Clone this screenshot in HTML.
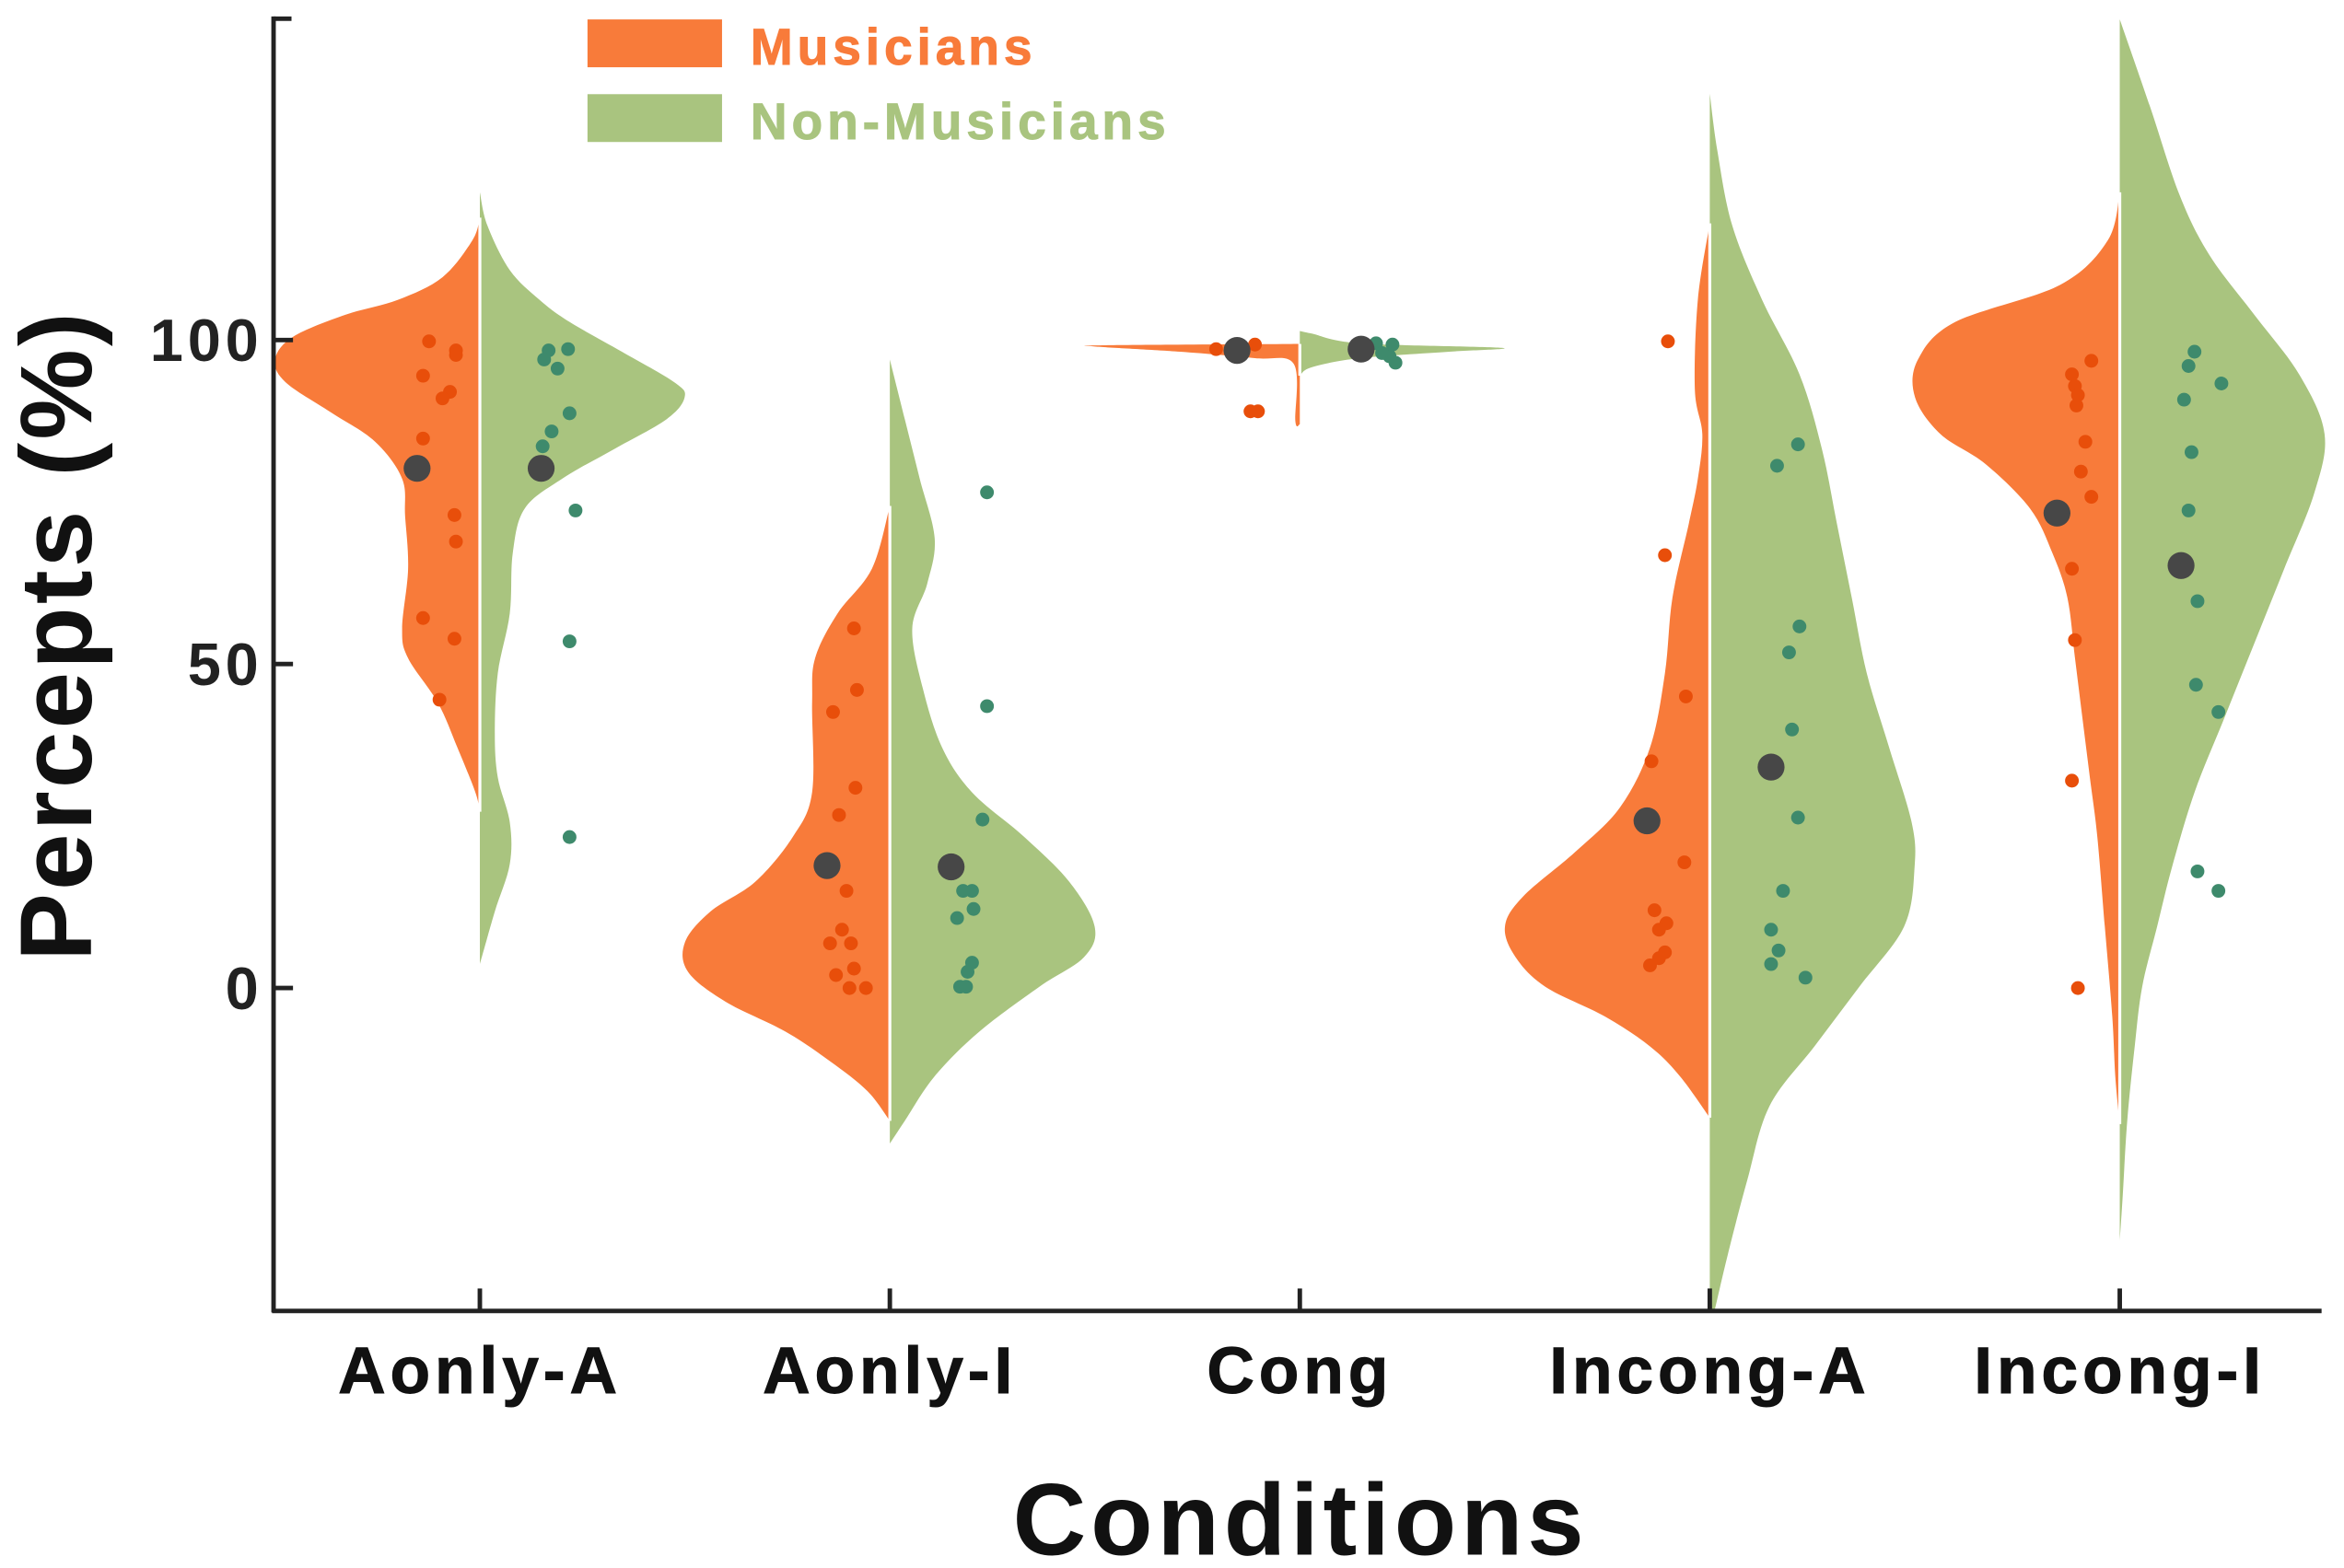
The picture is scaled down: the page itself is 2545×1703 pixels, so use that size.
<!DOCTYPE html>
<html><head><meta charset="utf-8"><style>
html,body{margin:0;padding:0;background:#fff;}
svg{display:block;}
text{font-family:"Liberation Sans",Arial,sans-serif;font-weight:bold;}
</style></head><body>
<svg id="chart" width="2545" height="1703" viewBox="0 0 1568 1049" preserveAspectRatio="none" xmlns="http://www.w3.org/2000/svg">
<g id="violins"></g>
<g id="points"></g>
<g id="axes">
<line x1="183" y1="11" x2="183" y2="878" stroke="#222" stroke-width="3"/>
<line x1="183" y1="12.5" x2="195" y2="12.5" stroke="#222" stroke-width="3"/>
<line x1="182" y1="877" x2="1553" y2="877" stroke="#222" stroke-width="3"/>
</g>
<g id="legend">
<rect x="393" y="13" width="90" height="32" fill="#F87B3A"/>
<text x="502" y="43" font-size="34" fill="#F87B3A" letter-spacing="3" stroke="#F87B3A" stroke-width="0.6">Musicians</text>
<rect x="393" y="63" width="90" height="32" fill="#A9C47F"/>
<text x="502" y="93" font-size="34" fill="#A9C47F" letter-spacing="3" stroke="#A9C47F" stroke-width="0.6">Non-Musicians</text>
</g>
<text x="870" y="1040" font-size="68" text-anchor="middle" fill="#111" letter-spacing="3">Conditions</text>
<text transform="translate(61,425) rotate(-90)" font-size="68" text-anchor="middle" fill="#111" letter-spacing="2">Percepts (%)</text>
</svg>
<script>
const categories = ["Aonly-A","Aonly-I","Cong","Incong-A","Incong-I"];
const yTicks = [0,50,100];
// density profiles: [value, half-width(density px)]
const musDensity = [
 [[118.9,0],[115.4,5],[109.7,25],[106.2,55],[103.9,90],[100.5,125],[97,137],[93.5,130],[88.9,100],[84.3,70],[78.6,52],[72.8,50],[64.7,48],[55.5,52],[50.9,48],[44,28],[37.1,15],[30.2,3],[27.2,0]],
 [[74.4,0],[64.7,12],[57.8,35],[50.9,50],[44,52],[30.2,52],[23.3,65],[16.4,90],[11.8,120],[7.1,137],[2.5,135],[-2.1,110],[-6.7,70],[-11.3,40],[-15.9,15],[-20.5,0]],
 [[99.4,0],[99.2,130],[99,137],[98.2,80],[97.2,30],[96.3,4],[87.5,3],[87,0]],
 [[118,0],[106.2,8],[92.4,10],[85.5,5],[78.6,8],[71.7,14],[60.2,25],[48.6,30],[37.1,40],[27.9,60],[21,90],[14.1,125],[9.5,137],[4.8,130],[0.2,110],[-4.4,70],[-9,40],[-13.6,20],[-20,0]],
 [[122.8,0],[115.4,8],[108.5,40],[102.8,110],[97,135],[91.2,137],[85.5,120],[80.9,90],[74,60],[67.1,45],[60.2,35],[51,30],[41.7,25],[32.5,20],[23.3,15],[9.5,10],[-4.4,5],[-13.6,3],[-21,0]]
];
const nonDensity = [
 [[122.8,0],[117.7,5],[110.8,20],[106.2,40],[102.8,60],[98.2,95],[93.5,130],[91.2,137],[87.8,125],[83.2,90],[78.6,55],[74,30],[67.1,22],[57.8,20],[48.6,12],[39.4,10],[32.5,12],[25.6,20],[19.1,20],[11.8,10],[3.7,0]],
 [[97,0],[87.8,10],[78.6,20],[69.4,30],[62.4,25],[55.5,15],[46.3,22],[37.1,35],[30.2,55],[23.3,90],[16.4,120],[9.5,137],[4.8,130],[0.2,100],[-6.7,60],[-13.6,30],[-20.5,10],[-24,0]],
 [[101.4,0],[101,8],[99.5,40],[98.8,135],[98.2,100],[97.2,40],[95.8,8],[94.5,0]],
 [[138,0],[129.3,5],[117.7,15],[106.2,35],[94.7,60],[83.2,75],[71.7,85],[60.2,95],[48.6,105],[37.1,120],[25.6,135],[18.7,137],[9.5,130],[0.2,100],[-9,70],[-18.2,40],[-29.7,25],[-41.2,12],[-50,3]],
 [[149.5,0],[136.2,20],[122.4,40],[113.1,60],[103.9,90],[94.7,120],[85.5,137],[76.3,130],[64.7,110],[53.2,90],[41.7,70],[30.2,50],[18.7,35],[9.5,25],[0.2,15],[-9,10],[-20.5,5],[-32,2],[-39,0]]
];
// individual points: [value, jitter offset from center]
const musPoints = [
 [[99.8,-34],[98.4,-16],[97.7,-16],[94.5,-38],[92,-20],[91,-25],[84.8,-38],[73,-17],[68.9,-16],[57.1,-38],[53.9,-17],[44.5,-27]],
 [[55.5,-24],[46,-22],[42.6,-38],[30.9,-23],[26.7,-34],[15,-29],[9,-32],[6.9,-40],[6.9,-26],[3,-24],[2,-36],[0,-27],[0,-16]],
 [[98.6,-56],[99.3,-30],[89,-33],[89,-28]],
 [[99.8,-28],[66.8,-30],[45,-16],[35,-39],[19.4,-17],[12,-37],[10,-29],[9,-34],[5.5,-30],[3.5,-40],[4.6,-34]],
 [[96.8,-19],[94.7,-32],[92.9,-30],[91.5,-28],[89.9,-29],[84.3,-23],[79.7,-26],[75.8,-19],[64.7,-32],[53.7,-30],[32,-32],[0,-28]]
];
const nonPoints = [
 [[98.4,46],[98.6,59],[97,43],[95.6,52],[88.7,60],[85.9,48],[83.6,42],[73.7,64],[53.5,60],[23.3,60]],
 [[76.5,65],[43.5,65],[26,62],[15,55],[15,49],[12.2,56],[10.8,45],[3.9,55],[2.5,52],[0.2,47],[0.2,51]],
 [[99.5,51],[99.3,62],[97.5,60],[96.5,64],[98,55]],
 [[83.9,59],[80.6,45],[55.8,60],[51.8,53],[39.9,55],[26.3,59],[15,49],[9,41],[5.8,46],[3.7,41],[1.6,64]],
 [[98.2,50],[96,46],[90.8,43],[93.3,68],[82.7,48],[73.7,46],[59.7,52],[46.8,51],[42.6,66],[18,52],[15,66]]
];
const musMeans = [80.2,18.9,98.4,25.8,73.3];
const nonMeans = [80.2,18.7,98.6,34.1,65.2];

const NS="http://www.w3.org/2000/svg";
function xScale(i){return 321+i*274.25;}
function yScale(v){return 661-4.335*v;}
const gV=document.getElementById('violins'), gP=document.getElementById('points'), gA=document.getElementById('axes');
function mk(tag,attrs,parent){const e=document.createElementNS(NS,tag);for(const k in attrs)e.setAttribute(k,attrs[k]);parent.appendChild(e);return e;}
function halfPath(cx,prof,dir){
  const pts=prof.map(p=>[cx+dir*p[1],yScale(p[0])]);
  let d=`M${cx},${pts[0][1]} L${pts[0][0]},${pts[0][1]}`;
  for(let k=0;k<pts.length-1;k++){
    const p0=pts[Math.max(k-1,0)],p1=pts[k],p2=pts[k+1],p3=pts[Math.min(k+2,pts.length-1)];
    const c1=[p1[0]+(p2[0]-p0[0])/6,p1[1]+(p2[1]-p0[1])/6];
    const c2=[p2[0]-(p3[0]-p1[0])/6,p2[1]-(p3[1]-p1[1])/6];
    d+=` C${c1[0]},${c1[1]} ${c2[0]},${c2[1]} ${p2[0]},${p2[1]}`;
  }
  d+=` L${cx},${pts[pts.length-1][1]} Z`;return d;
}
categories.forEach((c,i)=>{
  const cx=xScale(i);
  const pm=mk('path',{d:halfPath(cx,musDensity[i],-1),fill:'#F87B3A'},gV);
  
  
  const pn=mk('path',{d:halfPath(cx,nonDensity[i],1),fill:'#A9C47F'},gV);
  
  
  const sep=mk('line',{x1:cx,x2:cx,y1:yScale(Math.min(musDensity[i][0][0],nonDensity[i][0][0])),y2:yScale(Math.max(musDensity[i][musDensity[i].length-1][0],nonDensity[i][nonDensity[i].length-1][0])),stroke:'#fff','stroke-width':2},gV);
  
  
  musPoints[i].forEach(p=>{
    const e=mk('circle',{cx:cx+p[1],cy:yScale(p[0]),r:4.6,fill:'#E84E0A'},gP);
    
    
  });
  nonPoints[i].forEach(p=>{
    const e=mk('circle',{cx:cx+p[1],cy:yScale(p[0]),r:4.6,fill:'#3E8A6C'},gP);
    
    
  });
  const m1=mk('circle',{cx:cx-42,cy:yScale(musMeans[i]),r:9,fill:'#474747'},gP);
  
  
  const m2=mk('circle',{cx:cx+41,cy:yScale(nonMeans[i]),r:9,fill:'#474747'},gP);
  
  
  const t=mk('line',{x1:cx,x2:cx,y1:862,y2:877,stroke:'#222','stroke-width':3},gA);
  
  
  const lb=mk('text',{x:cx,y:932,'font-size':44,'text-anchor':'middle',fill:'#111','letter-spacing':3,stroke:'#111','stroke-width':0.6},gA);
  lb.textContent=c;
  
  
});
yTicks.forEach(v=>{
  const y=yScale(v);
  const t=mk('line',{x1:183,x2:196,y1:y,y2:y,stroke:'#222','stroke-width':3},gA);
  
  
  const lb=mk('text',{x:176,y:y+14,'font-size':40,'text-anchor':'end',fill:'#222','letter-spacing':3},gA);
  lb.textContent=v;
  
  
});
</script>
</body></html>
